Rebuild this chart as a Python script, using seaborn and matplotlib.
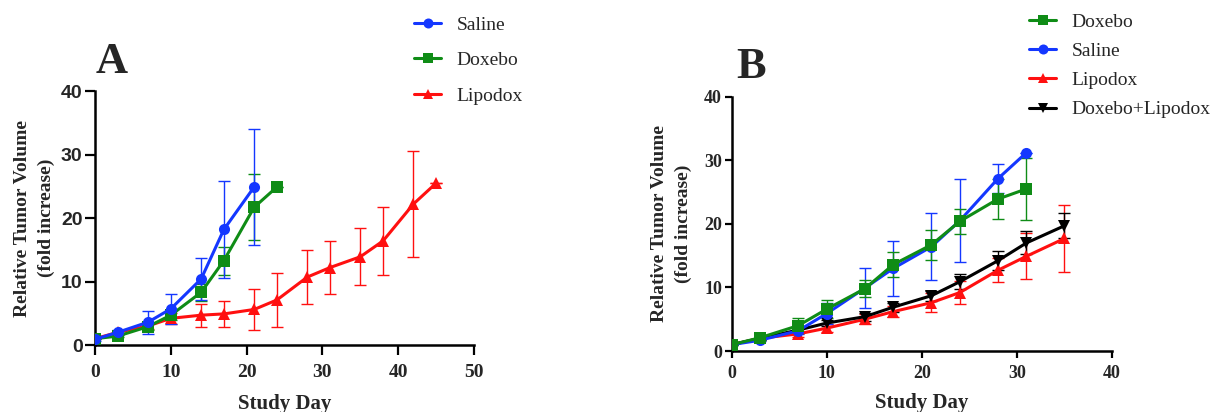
import numpy as np
import pandas as pd
import matplotlib
matplotlib.use("Agg")
import matplotlib.pyplot as plt
import seaborn as sns

# ---- panel A data (mean and SD) ----
a_days_saline = [0, 3, 7, 10, 14, 17, 21]
a_saline = [0.9, 2.0, 3.6, 5.7, 10.4, 18.2, 24.9]
a_saline_sd = [0.2, 0.3, 1.8, 2.4, 3.3, 7.6, 9.2]

a_days_doxebo = [0, 3, 7, 10, 14, 17, 21, 24]
a_doxebo = [1.0, 1.4, 2.9, 4.7, 8.3, 13.3, 21.7, 24.9]
a_doxebo_sd = [0.1, 0.2, 0.5, 0.8, 1.3, 2.2, 5.2, 0.0]

a_days_lipodox = [0, 3, 7, 10, 14, 17, 21, 24, 28, 31, 35, 38, 42, 45]
a_lipodox = [1.0, 2.0, 3.0, 4.2, 4.7, 4.9, 5.6, 7.1, 10.7, 12.2, 13.9, 16.4, 22.2, 25.5]
a_lipodox_sd = [0.1, 0.2, 0.4, 0.9, 1.8, 2.0, 3.3, 4.2, 4.2, 4.2, 4.5, 5.3, 8.3, 0.0]

# ---- panel B data ----
b_days_doxebo = [0, 3, 7, 10, 14, 17, 21, 24, 28, 31]
b_doxebo = [1.0, 2.1, 4.0, 6.6, 9.8, 13.6, 16.7, 20.4, 23.9, 25.5]
b_doxebo_sd = [0.1, 0.3, 1.2, 1.4, 1.3, 2.0, 2.4, 2.0, 3.2, 4.9]

b_days_saline = [0, 3, 7, 10, 14, 17, 21, 24, 28, 31]
b_saline = [1.0, 1.7, 3.2, 5.9, 9.9, 13.0, 16.4, 20.5, 27.1, 31.2]
b_saline_sd = [0.1, 0.2, 0.5, 1.6, 3.2, 4.3, 5.3, 6.5, 2.3, 0.0]

b_days_lipodox = [0, 3, 7, 10, 14, 17, 21, 24, 28, 31, 35]
b_lipodox = [1.0, 2.0, 2.7, 3.6, 5.0, 6.2, 7.6, 9.2, 12.7, 14.9, 17.7]
b_lipodox_sd = [0.1, 0.2, 0.5, 0.6, 0.8, 0.9, 1.5, 1.8, 1.9, 3.6, 5.2]

b_days_combo = [0, 3, 7, 10, 14, 17, 21, 24, 28, 31, 35]
b_combo = [1.0, 2.0, 3.3, 4.4, 5.4, 6.9, 8.7, 10.9, 14.2, 17.0, 19.7]
b_combo_sd = [0.1, 0.2, 0.4, 0.5, 0.6, 0.7, 0.8, 1.2, 1.5, 1.8, 2.0]

colors = {"Saline": "#1437ff", "Doxebo": "#0f8c16", "Lipodox": "#ff1010",
          "Doxebo+Lipodox": "#000000"}
markers = {"Saline": "o", "Doxebo": "s", "Lipodox": "^", "Doxebo+Lipodox": "v"}

panel_a = [("Saline", a_days_saline, a_saline, a_saline_sd),
           ("Doxebo", a_days_doxebo, a_doxebo, a_doxebo_sd),
           ("Lipodox", a_days_lipodox, a_lipodox, a_lipodox_sd)]
panel_b = [("Doxebo", b_days_doxebo, b_doxebo, b_doxebo_sd),
           ("Saline", b_days_saline, b_saline, b_saline_sd),
           ("Lipodox", b_days_lipodox, b_lipodox, b_lipodox_sd),
           ("Doxebo+Lipodox", b_days_combo, b_combo, b_combo_sd)]

sns.set_style("ticks")
plt.rcParams["font.family"] = ["Liberation Serif", "DejaVu Serif"]

fig = plt.figure(figsize=(12.23, 4.12), dpi=100)
ax_a = fig.add_axes([0.0777, 0.1626, 0.3099, 0.6164])
ax_b = fig.add_axes([0.5983, 0.1480, 0.3109, 0.6173])


def draw_panel(ax, groups, draw_order, xmax, tick_len, tick_size, xtick_pad,
               xpad, ypad):
    frames = []
    for name, days, vals, sd in groups:
        frames.append(pd.DataFrame({"day": days, "volume": vals, "group": name}))
    df = pd.concat(frames, ignore_index=True)
    lookup = {g[0]: g for g in groups}
    for name in draw_order:
        _, days, vals, sd = lookup[name]
        ax.errorbar(days, vals, yerr=sd, fmt="none", ecolor=colors[name],
                    elinewidth=1.0, capsize=4, capthick=1.0, zorder=2)
        sns.lineplot(data=df[df["group"] == name], x="day", y="volume",
                     color=colors[name], marker=markers[name], markersize=8,
                     markeredgewidth=0, linewidth=2.2, ax=ax, zorder=3,
                     label=name, legend=False)
    ax.set_xlim(0, xmax)
    ax.set_ylim(0, 40)
    ax.set_xticks(np.arange(0, xmax + 1, 10))
    ax.set_yticks([0, 10, 20, 30, 40])
    for side in ["top", "right"]:
        ax.spines[side].set_visible(False)
    for side in ["left", "bottom"]:
        ax.spines[side].set_linewidth(1.8)
        ax.spines[side].set_color("black")
    ax.tick_params(width=1.6, length=tick_len, color="black", pad=2)
    ax.tick_params(axis="x", pad=xtick_pad)
    ax.set_xlabel("Study Day", fontsize=15, fontweight="bold", labelpad=xpad)
    ax.set_ylabel("Relative Tumor Volume\n(fold increase)", fontsize=14,
                  fontweight="bold", linespacing=1.5, labelpad=ypad)
    for lab in ax.get_xticklabels() + ax.get_yticklabels():
        lab.set_fontsize(tick_size)
        lab.set_fontweight("bold")
    ax.margins(0)


draw_panel(ax_a, panel_a, ["Lipodox", "Doxebo", "Saline"], 50, 7, 14, 7, 9, 4)
draw_panel(ax_b, panel_b, ["Lipodox", "Doxebo+Lipodox", "Saline", "Doxebo"],
           40, 5, 13, 5, 8, 9)

# panel A y tick labels are sans-serif in the original
for lab in ax_a.get_yticklabels():
    lab.set_family("Liberation Sans")


def add_legend(ax, order, anchor, spacing):
    handles, labels = ax.get_legend_handles_labels()
    hmap = dict(zip(labels, handles))
    fig.legend([hmap[n] for n in order], order, loc="upper left",
               bbox_to_anchor=anchor, frameon=False, fontsize=14,
               handlelength=1.4, handletextpad=0.8, labelspacing=spacing,
               borderpad=0, borderaxespad=0, markerscale=0.9)


add_legend(ax_a, ["Saline", "Doxebo", "Lipodox"], (414 / 1223, 1 - 16 / 412), 0.92)
add_legend(ax_b, ["Doxebo", "Saline", "Lipodox", "Doxebo+Lipodox"],
           (1029 / 1223, 1 - 13 / 412), 0.6)

fig.text(96 / 1223, 1 - 73 / 412, "A", fontsize=32, fontweight="bold")
fig.text(736 / 1223, 1 - 78 / 412, "B", fontsize=32, fontweight="bold")

fig.savefig("out.png", dpi=100)
